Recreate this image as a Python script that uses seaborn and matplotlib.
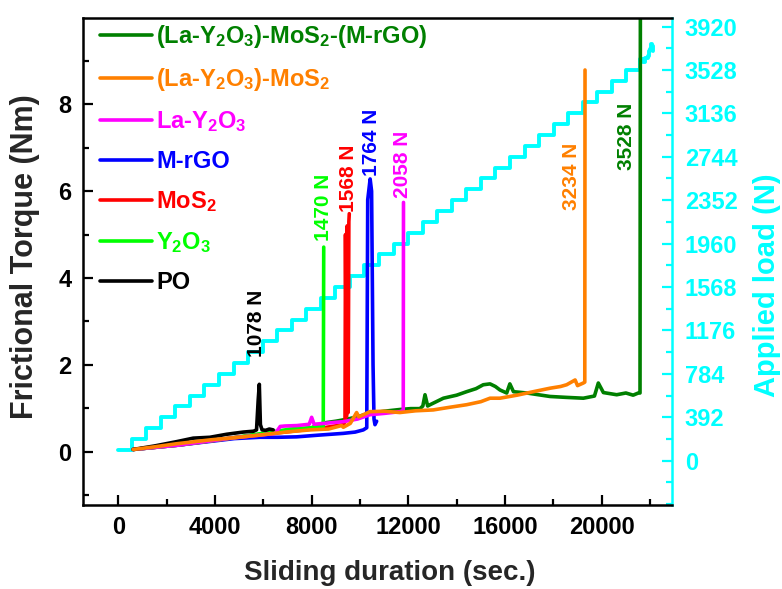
import matplotlib
matplotlib.use("Agg")
import matplotlib.pyplot as plt
import seaborn as sns
import pandas as pd
from matplotlib.ticker import MultipleLocator

# ---------------- data ----------------
# Frictional torque curves: time (s) and torque (Nm)
po_t = [620, 1500, 2420, 3100, 3790, 4490, 5170, 5600, 5720, 5790, 5835, 5880, 5950, 6100, 6250, 6410]
po_T = [0.05, 0.13, 0.23, 0.31, 0.33, 0.40, 0.45, 0.47, 0.50, 1.20, 1.55, 0.62, 0.50, 0.49, 0.52, 0.50]

y2o3_t = [620, 2500, 4800, 6900, 7100, 8000, 8480, 8500]
y2o3_T = [0.05, 0.15, 0.32, 0.50, 0.52, 0.55, 0.58, 4.71]

mos2_t = [620, 2500, 4800, 6900, 8500, 9300, 9380, 9400, 9440, 9470, 9510, 9540, 9557]
mos2_T = [0.05, 0.15, 0.32, 0.45, 0.55, 0.62, 0.69, 5.0, 0.8, 5.2, 0.9, 5.3, 5.48]

mrgo_t = [620, 2500, 4800, 5860, 6600, 7380, 8300, 9310, 9800, 10137, 10280, 10320, 10420, 10480, 10540, 10580, 10620, 10690]
mrgo_T = [0.05, 0.15, 0.30, 0.33, 0.33, 0.34, 0.38, 0.42, 0.45, 0.50, 0.55, 5.80, 6.28, 6.00, 2.00, 0.75, 0.62, 0.70]

lay_t = [620, 2500, 4800, 5860, 6500, 6700, 6900, 7400, 7900, 8000, 8100, 8500, 9310, 9900, 10410, 11000, 11650, 11790, 11800]
lay_T = [0.05, 0.15, 0.32, 0.38, 0.42, 0.58, 0.59, 0.60, 0.63, 0.79, 0.63, 0.65, 0.69, 0.75, 0.85, 0.88, 0.92, 0.95, 5.74]

laym_t = [620, 1500, 2400, 3800, 4800, 5860, 6900, 7930, 8700, 9240, 9310, 9600, 9860, 9950, 10410, 11000,
          11650, 12300, 13030, 13700, 14410, 15000, 15380, 15790, 16500, 17170, 17860, 18300, 18550, 18900,
          19000, 19240, 19300, 19310]
laym_T = [0.05, 0.11, 0.18, 0.27, 0.32, 0.38, 0.45, 0.50, 0.52, 0.60, 0.56, 0.65, 0.90, 0.80, 0.92, 0.93,
          0.90, 0.94, 0.96, 1.02, 1.08, 1.15, 1.23, 1.23, 1.30, 1.38, 1.46, 1.50, 1.54, 1.65,
          1.52, 1.58, 1.60, 8.79]

laymg_t = [620, 2500, 4800, 6900, 8000, 8500, 9000, 9500, 10000, 10400, 11000, 11650, 12100, 12480, 12600,
           12690, 12800, 12900, 13450, 14000, 14410, 14800, 15100, 15380, 15600, 15790, 16070, 16200, 16350,
           16900, 17500, 17860, 18500, 19240, 19700, 19860, 20070, 20620, 21000, 21300, 21515, 21585, 21600]
laymg_T = [0.05, 0.16, 0.32, 0.47, 0.55, 0.66, 0.70, 0.75, 0.82, 0.88, 0.93, 0.97, 0.99, 0.99, 1.05,
           1.31, 1.05, 1.08, 1.23, 1.30, 1.38, 1.45, 1.54, 1.56, 1.50, 1.42, 1.35, 1.56, 1.38,
           1.35, 1.30, 1.27, 1.25, 1.23, 1.28, 1.58, 1.36, 1.31, 1.35, 1.30, 1.35, 1.35, 10.2]

# Applied load staircase: time (s) and load (N)
load_t = [0, 554, 1156, 1758, 2360, 2962, 3564, 4166, 4768, 5370, 5972, 6574, 7176, 7778, 8380, 8982,
          9584, 10186, 10788, 11390, 11992, 12594, 13196, 13798, 14400, 15002, 15604, 16206, 16808, 17410,
          18012, 18614, 19216, 19818, 20420, 21022, 21600, 21700, 21800, 21900, 21950, 22000, 22050,
          22100, 22130]
load_N = [98, 196, 294, 392, 490, 588, 686, 784, 882, 980, 1078, 1176, 1274, 1372, 1470, 1568,
          1666, 1764, 1862, 1960, 2058, 2156, 2254, 2352, 2450, 2548, 2646, 2744, 2842, 2940,
          3038, 3136, 3234, 3332, 3430, 3528, 3626, 3600, 3640, 3650, 3700, 3720, 3760,
          3740, 3700]

legend_order = ["(La-Y$_2$O$_3$)-MoS$_2$-(M-rGO)", "(La-Y$_2$O$_3$)-MoS$_2$", "La-Y$_2$O$_3$",
                "M-rGO", "MoS$_2$", "Y$_2$O$_3$", "PO"]

# failure annotations: text, x, y (bottom of text)
ann_text = ["1078 N", "1470 N", "1568 N", "1764 N", "2058 N", "3234 N", "3528 N"]
ann_x = [5700, 8500, 9545, 10456, 11750, 18771, 21034]
ann_y = [2.18, 4.84, 5.51, 6.34, 5.84, 5.56, 6.49]

right_ticks = [0, 392, 784, 1176, 1568, 1960, 2352, 2744, 3136, 3528, 3920]

# ---------------- styling ----------------
sns.set_style("white")
plt.rcParams["font.family"] = ["Liberation Sans", "DejaVu Sans"]
plt.rcParams["font.weight"] = "bold"
plt.rcParams["axes.labelweight"] = "bold"
plt.rcParams["mathtext.fontset"] = "custom"
plt.rcParams["mathtext.rm"] = "Liberation Sans:bold"
plt.rcParams["mathtext.bf"] = "Liberation Sans:bold"
plt.rcParams["mathtext.it"] = "Liberation Sans:bold:italic"
plt.rcParams["mathtext.default"] = "bf"

CYAN = "#00FFFF"
colors = {
    "(La-Y$_2$O$_3$)-MoS$_2$-(M-rGO)": "#008000",
    "(La-Y$_2$O$_3$)-MoS$_2$": "#FF8000",
    "La-Y$_2$O$_3$": "#FF00FF",
    "M-rGO": "#0000FF",
    "MoS$_2$": "#FF0000",
    "Y$_2$O$_3$": "#00FF00",
    "PO": "#000000",
}
series = {
    "(La-Y$_2$O$_3$)-MoS$_2$-(M-rGO)": (laymg_t, laymg_T),
    "M-rGO": (mrgo_t, mrgo_T),
    "MoS$_2$": (mos2_t, mos2_T),
    "Y$_2$O$_3$": (y2o3_t, y2o3_T),
    "La-Y$_2$O$_3$": (lay_t, lay_T),
    "PO": (po_t, po_T),
    "(La-Y$_2$O$_3$)-MoS$_2$": (laym_t, laym_T),
}
ann_colors = ["#000000", "#00FF00", "#FF0000", "#0000FF", "#FF00FF", "#FF8000", "#008000"]

fig = plt.figure(figsize=(7.82, 5.89), dpi=100)
ax = fig.add_axes([0.1058, 0.1426, 0.7539, 0.8263])
ax2 = ax.twinx()
ax.set_zorder(2)
ax2.set_zorder(1)
ax.patch.set_visible(False)

# applied load staircase (right axis)
load_df = pd.DataFrame({"t": load_t, "N": load_N})
sns.lineplot(data=load_df, x="t", y="N", ax=ax2, color=CYAN, lw=2.8,
             drawstyle="steps-post", estimator=None, sort=False)

# friction torque curves (left axis)
handles = {}
for name, (tt, TT) in series.items():
    df = pd.DataFrame({"t": tt, "T": TT})
    sns.lineplot(data=df, x="t", y="T", ax=ax, color=colors[name], lw=2.6,
                 estimator=None, sort=False, label=name)
    handles[name] = ax.get_lines()[-1]

for txt, x, y, c in zip(ann_text, ann_x, ann_y, ann_colors):
    ax.text(x, y, txt, rotation=90, ha="center", va="bottom", color=c,
            fontsize=15, fontweight="bold")

ax.set_xlim(-1470, 22920)
ax.set_ylim(-1.23, 9.98)
ax2.set_ylim(-400, 3994)

ax.xaxis.set_major_locator(MultipleLocator(4000))
ax.xaxis.set_minor_locator(MultipleLocator(2000))
ax.yaxis.set_major_locator(MultipleLocator(2))
ax.yaxis.set_minor_locator(MultipleLocator(1))
ax2.set_yticks(right_ticks)
ax2.yaxis.set_minor_locator(MultipleLocator(196))

ax.tick_params(which="both", direction="in", width=1.6, bottom=True, left=True,
               top=False, right=False, labelsize=17, pad=8, colors="black")
ax.tick_params(which="major", length=7.5)
ax.tick_params(which="minor", length=4)
ax2.tick_params(axis="y", which="both", direction="in", width=1.6, right=True, left=False,
                colors=CYAN, labelsize=17, pad=9)
ax2.tick_params(axis="y", which="major", length=7.5)
ax2.tick_params(axis="y", which="minor", length=4)

for s in ax.spines.values():
    s.set_linewidth(1.8)
    s.set_color("black")
ax.spines["right"].set_visible(False)
for k in ["left", "top", "bottom"]:
    ax2.spines[k].set_visible(False)
ax2.spines["right"].set_color(CYAN)
ax2.spines["right"].set_linewidth(1.8)

ax.set_xlabel("Sliding duration (sec.)", fontsize=20, fontweight="bold")
ax.set_ylabel("Frictional Torque (Nm)", fontsize=22, fontweight="bold")
ax2.set_ylabel("Applied load (N)", fontsize=21, fontweight="bold", color=CYAN)
ax.xaxis.set_label_coords(0.521, -0.113)
ax.yaxis.set_label_coords(-0.073, 0.51)
ax2.yaxis.set_label_coords(1.137, 0.452)

leg = ax.legend([handles[n] for n in legend_order], legend_order, loc="upper left",
                bbox_to_anchor=(0.029, 0.99), frameon=False, fontsize=17,
                handlelength=2.2, handletextpad=0.2, labelspacing=0.68,
                borderpad=0, borderaxespad=0, labelcolor="linecolor")

fig.savefig("out.png", dpi=100, facecolor="white")
